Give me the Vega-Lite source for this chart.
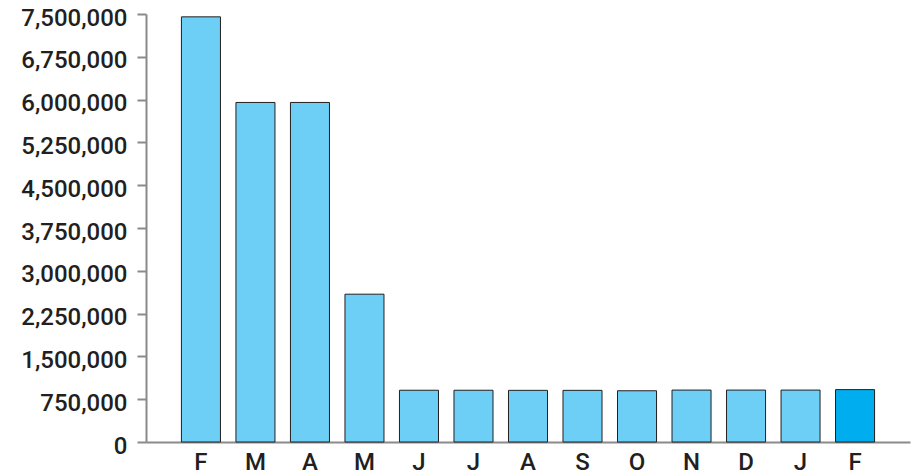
{
  "$schema": "https://vega.github.io/schema/vega-lite/v6.json",
  "width": 764,
  "height": 428,
  "autosize": {"type": "none"},
  "padding": {"left": 146, "top": 14, "right": 5, "bottom": 34},
  "background": "white",
  "data": {
    "values": [
      {"month": "Feb 2020", "value": 7450000, "status": "past"},
      {"month": "Mar 2020", "value": 5950000, "status": "past"},
      {"month": "Apr 2020", "value": 5950000, "status": "past"},
      {"month": "May 2020", "value": 2590000, "status": "past"},
      {"month": "Jun 2020", "value": 907000, "status": "past"},
      {"month": "Jul 2020", "value": 907000, "status": "past"},
      {"month": "Aug 2020", "value": 905000, "status": "past"},
      {"month": "Sep 2020", "value": 905000, "status": "past"},
      {"month": "Oct 2020", "value": 898000, "status": "past"},
      {"month": "Nov 2020", "value": 910000, "status": "past"},
      {"month": "Dec 2020", "value": 910000, "status": "past"},
      {"month": "Jan 2021", "value": 910000, "status": "past"},
      {"month": "Feb 2021", "value": 918000, "status": "current"}
    ]
  },
  "config": {
    "view": {"stroke": null},
    "font": "Roboto"
  },
  "mark": {"type": "bar", "stroke": "#231f20", "strokeWidth": 1},
  "encoding": {
    "x": {
      "field": "month",
      "type": "nominal",
      "sort": null,
      "scale": {"paddingInner": 0.284, "paddingOuter": 0.65},
      "axis": {
        "title": null,
        "labelAngle": 0,
        "labelExpr": "substring(datum.label, 0, 1)",
        "ticks": false,
        "domainColor": "#8a8a8a",
        "domainWidth": 2,
        "labelFontSize": 24,
        "labelFontWeight": 500,
        "labelColor": "#231f20",
        "labelBaseline": "alphabetic",
        "labelPadding": 27,
        "labelFont": "Roboto"
      }
    },
    "y": {
      "field": "value",
      "type": "quantitative",
      "scale": {"domain": [0, 7500000], "nice": false},
      "axis": {
        "title": null,
        "values": [0, 750000, 1500000, 2250000, 3000000, 3750000, 4500000, 5250000, 6000000, 6750000, 7500000],
        "format": ",d",
        "grid": false,
        "domainColor": "#8a8a8a",
        "domainWidth": 2,
        "tickColor": "#8a8a8a",
        "tickWidth": 2,
        "tickSize": 9,
        "labelFontSize": 24,
        "labelFontWeight": 500,
        "labelColor": "#231f20",
        "labelPadding": 10,
        "labelOffset": 4,
        "labelFont": "Roboto"
      }
    },
    "color": {
      "field": "status",
      "type": "nominal",
      "scale": {"domain": ["past", "current"], "range": ["#6dcff6", "#00aeef"]},
      "legend": null
    }
  }
}
